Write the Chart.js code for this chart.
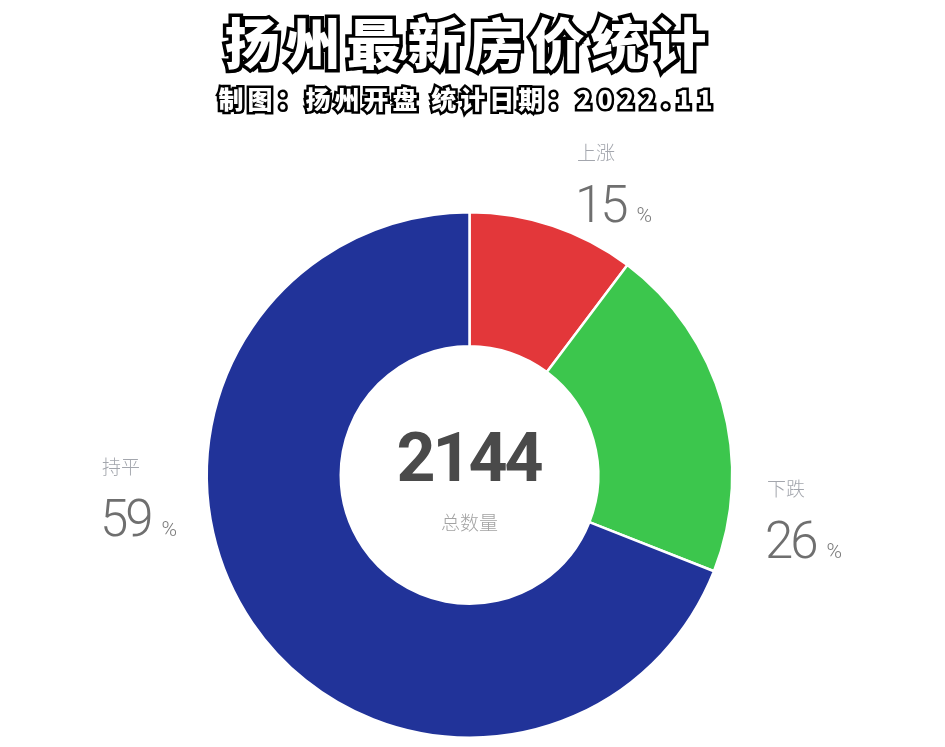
<!DOCTYPE html>
<html>
<head>
<meta charset="utf-8">
<script src="https://cdn.jsdelivr.net/npm/chart.js@4.4.0/dist/chart.umd.min.js"></script>
<style>
  html, body { margin: 0; padding: 0; background: #fff; }
  body { width: 945px; height: 747px; position: relative; overflow: hidden; font-family: "Noto Sans CJK SC", "Noto Sans", sans-serif; }
  #wrap { position: absolute; left: 0; top: 0; width: 945px; height: 747px; }
  .title {
    position: absolute; left: 0; width: 937px; text-align: center;
    font-family: "Noto Sans CJK SC", sans-serif; font-weight: 900; color: #fff;
    -webkit-text-stroke: 7px #000; paint-order: stroke fill;
    text-shadow: 3px 3px 0 #000, 2px 2px 0 #000;
    white-space: nowrap;
  }
  #t1 { top: 4px; font-size: 55px; letter-spacing: 6px; line-height: 72px; }
  #t2 { top: 80px; font-size: 25px; letter-spacing: 4px; line-height: 36px; -webkit-text-stroke: 5px #000; text-shadow: 2px 2px 0 #000; }
  #t2 .num { letter-spacing: 6px; }
  .lbl { position: absolute; white-space: nowrap; }
  .lbl .cat { display: block; font-size: 19px; color: #a3a6ad; line-height: 22px; font-family: "Noto Sans CJK SC", sans-serif; font-weight: 300; }
  .lbl .val { display: block; margin-top: 16px; line-height: 52px; }
  .lbl .n { font-family: Roboto, "Noto Sans", sans-serif; font-weight: 300; font-size: 51px; color: #6f6f6f; letter-spacing: -3px; }
  .lbl .p { font-family: Roboto, "Noto Sans", sans-serif; font-weight: 300; font-size: 21px; color: #7a7a7a; margin-left: 11px; }
  #total { position: absolute; left: 0; width: 937px; top: 418px; text-align: center; font-family: Roboto, "Noto Sans", sans-serif; font-weight: 700; font-size: 68px; line-height: 80px; color: #4a4a4a; letter-spacing: -3px; }
  #totalLbl { position: absolute; left: 0; width: 939px; top: 509px; text-align: center; font-size: 19px; line-height: 26px; color: #a3a3a3; font-weight: 300; }
</style>
</head>
<body>
<div id="wrap"><canvas id="c" width="945" height="747"></canvas></div>
<div class="title" id="t1"></div>
<div class="title" id="t2"></div>
<div id="total"></div>
<div id="totalLbl"></div>
<script>
// ---- data ----
const titleText = "扬州最新房价统计";
const subtitleParts = ["制图：扬州开盘", "统计日期：", "2022.11"];
const categories = ["上涨", "下跌", "持平"];
const counts = [220, 444, 1480];          // slice sizes read from the ring
const percentLabels = [15, 26, 59];        // percentages printed beside the ring
const colors = ["#E3373A", "#3CC64D", "#213399"];
const totalValue = 2144;
const totalLabel = "总数量";

// ---- label layout (positions only) ----
const labelPos = [
  { left: 575, top: 141 },
  { left: 765, top: 477 },
  { left: 100, top: 455 }
];

document.getElementById('t1').textContent = titleText;
document.getElementById('t2').innerHTML = subtitleParts[0] + " " + subtitleParts[1] + '<span class="num">' + subtitleParts[2] + '</span>';
document.getElementById('total').textContent = String(totalValue);
document.getElementById('totalLbl').textContent = totalLabel;

categories.forEach((c, i) => {
  const d = document.createElement('div');
  d.className = 'lbl';
  d.style.left = labelPos[i].left + 'px';
  d.style.top = labelPos[i].top + 'px';
  const cat = document.createElement('span'); cat.className = 'cat'; cat.textContent = c;
  cat.style.marginLeft = '2px';
  const val = document.createElement('span'); val.className = 'val';
  const n = document.createElement('span'); n.className = 'n'; n.textContent = percentLabels[i];
  const p = document.createElement('span'); p.className = 'p'; p.textContent = '%';
  val.appendChild(n); val.appendChild(p);
  d.appendChild(cat); d.appendChild(val);
  document.body.appendChild(d);
});

new Chart(document.getElementById('c'), {
  type: 'doughnut',
  data: {
    labels: categories,
    datasets: [{
      data: counts,
      backgroundColor: colors,
      borderColor: '#ffffff',
      borderWidth: 2.5,
      hoverOffset: 0
    }]
  },
  options: {
    responsive: false,
    animation: false,
    devicePixelRatio: 1,
    cutout: '49%',
    layout: { padding: { top: 211, bottom: 8, left: 0, right: 6 } },
    plugins: { legend: { display: false }, tooltip: { enabled: false }, title: { display: false } }
  }
});
</script>
</body>
</html>
